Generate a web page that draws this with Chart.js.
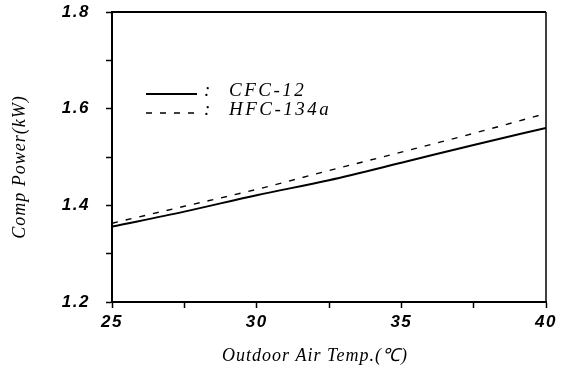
<!DOCTYPE html>
<html>
<head>
<meta charset="utf-8">
<script src="https://cdn.jsdelivr.net/npm/chart.js@4/dist/chart.umd.min.js"></script>
<style>
  body { margin: 0; background: #fff; }
  canvas { display: block; }
</style>
</head>
<body>
<canvas id="myChart" width="565" height="368"></canvas>
<script>
// data
var temps = [25, 27.5, 30, 32.5, 35, 37.5, 40];
var cfc12 = [1.356, 1.387, 1.421, 1.452, 1.488, 1.525, 1.560];
var hfc134a = [1.363, 1.398, 1.433, 1.472, 1.510, 1.549, 1.590];
var seriesNames = ["CFC-12", "HFC-134a"];
var xTicks = [25, 30, 35, 40];
var yTicks = [1.2, 1.4, 1.6, 1.8];
var xTitle = "Outdoor Air Temp.(\u2103)";
var yTitle = "Comp Power(kW)";

function points(ys) {
  return temps.map(function (t, i) {
    return { x: t, y: ys[i] };
  });
}

function isMajor(list, v) {
  return list.some(function (m) { return Math.abs(m - v) < 1e-6; });
}

// frame on top/right, axis titles and the line legend
var extras = {
  id: "extras",
  beforeDraw: function (chart) {
    chart.ctx.letterSpacing = "1.5px";
  },
  afterDraw: function (chart) {
    var ctx = chart.ctx;
    var a = chart.chartArea;
    ctx.save();
    ctx.strokeStyle = "#000";
    ctx.lineWidth = 2;
    ctx.beginPath();
    ctx.moveTo(a.left, a.top);
    ctx.lineTo(a.right, a.top);
    ctx.stroke();
    ctx.lineWidth = 1.5;
    ctx.beginPath();
    ctx.moveTo(a.right, a.top);
    ctx.lineTo(a.right, a.bottom);
    ctx.stroke();

    ctx.fillStyle = "#000";
    ctx.letterSpacing = "1px";
    ctx.font = "italic 18px 'Liberation Serif'";
    ctx.textAlign = "center";
    ctx.textBaseline = "middle";
    ctx.fillText(xTitle, a.left + 203, a.bottom + 54);

    ctx.save();
    ctx.translate(20, a.top + 155);
    ctx.rotate(-Math.PI / 2);
    ctx.letterSpacing = "1px";
    ctx.fillText(yTitle, 0, 0);
    ctx.restore();

    // legend
    var ds = chart.data.datasets;
    ctx.letterSpacing = "2.5px";
    ctx.font = "italic 19px 'Liberation Serif'";
    ctx.textAlign = "left";
    ctx.textBaseline = "alphabetic";
    for (var i = 0; i < ds.length; i++) {
      var y = a.top + 82 + i * 19;
      ctx.strokeStyle = "#000";
      ctx.lineWidth = ds[i].borderWidth;
      ctx.setLineDash(ds[i].borderDash || []);
      ctx.beginPath();
      ctx.moveTo(a.left + 34, y);
      ctx.lineTo(a.left + 85, y);
      ctx.stroke();
      ctx.setLineDash([]);
      ctx.fillText(":", a.left + 92, y + 2);
      ctx.fillText(ds[i].label, a.left + 117, y + 2);
    }
    ctx.restore();
  },
};

var tickFont = { family: "'Liberation Sans'", size: 17, style: "italic", weight: "bold" };

var myChart = document.getElementById("myChart").getContext("2d");
var chart = new Chart(myChart, {
  type: "line",
  data: {
    datasets: [
      {
        label: seriesNames[0],
        data: points(cfc12),
        borderColor: "#000",
        borderWidth: 2,
        pointRadius: 0,
        cubicInterpolationMode: "monotone",
      },
      {
        label: seriesNames[1],
        data: points(hfc134a),
        borderColor: "#000",
        borderWidth: 1.4,
        borderDash: [6, 8],
        pointRadius: 0,
        cubicInterpolationMode: "monotone",
      },
    ],
  },
  options: {
    responsive: false,
    animation: false,
    layout: { padding: { left: 0, top: 12, right: 19, bottom: 0 } },
    plugins: { legend: { display: false }, tooltip: { enabled: false } },
    scales: {
      x: {
        type: "linear",
        min: 25,
        max: 40,
        afterFit: function (s) {
          s.height = 66;
          s.paddingLeft = 0;
          s.paddingRight = 0;
        },
        ticks: {
          stepSize: 2.5,
          color: "#000",
          font: tickFont,
          padding: 4,
          maxRotation: 0,
          callback: function (v) { return isMajor(xTicks, v) ? String(v) : ""; },
        },
        grid: { drawOnChartArea: false, tickLength: 6, tickColor: "#000", tickWidth: 1.5 },
        border: { color: "#000", width: 2 },
      },
      y: {
        min: 1.2,
        max: 1.8,
        afterFit: function (s) {
          s.width = 112;
          s.paddingTop = 0;
          s.paddingBottom = 0;
        },
        ticks: {
          stepSize: 0.1,
          color: "#000",
          font: tickFont,
          padding: 16,
          callback: function (v) { return isMajor(yTicks, v) ? v.toFixed(1) : ""; },
        },
        grid: { drawOnChartArea: false, tickLength: 6, tickColor: "#000", tickWidth: 1.5 },
        border: { color: "#000", width: 2 },
      },
    },
  },
  plugins: [extras],
});
</script>
</body>
</html>
